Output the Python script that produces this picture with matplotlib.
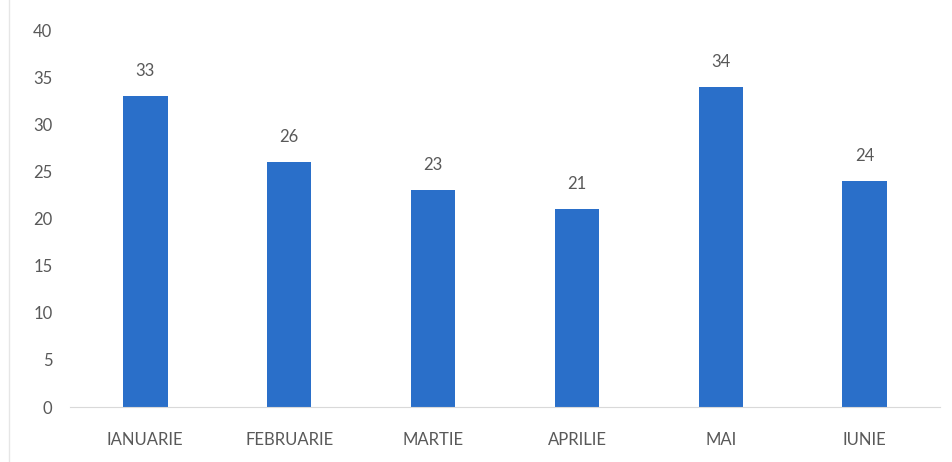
import matplotlib.pyplot as plt
from matplotlib.lines import Line2D

luni = ['IANUARIE', 'FEBRUARIE', 'MARTIE', 'APRILIE', 'MAI', 'IUNIE']
valori = [33, 26, 23, 21, 34, 24]
y_ticks = [0, 5, 10, 15, 20, 25, 30, 35, 40]

plt.rcParams['font.family'] = ['Lato', 'DejaVu Sans']

fig = plt.figure(figsize=(9.52, 4.62), dpi=100)
ax = fig.add_axes([0.074, 0.119, 0.913, 0.816])

bars = ax.bar(range(len(luni)), valori, width=0.31, color='#2a6fc9', zorder=2)
for b, v in zip(bars, valori):
    ax.text(b.get_x() + b.get_width() / 2, v + 1.8, str(v), ha='center', va='bottom',
            fontsize=12, color='#595959')

ax.set_xlim(-0.52, 5.52)
ax.set_ylim(0, 40)
ax.set_yticks(y_ticks)
ax.set_xticks(range(len(luni)))
ax.set_xticklabels(luni)
ax.tick_params(axis='both', length=0, labelsize=12, labelcolor='#595959')
ax.tick_params(axis='x', pad=18)
ax.tick_params(axis='y', pad=13)

for s in ['top', 'right', 'left']:
    ax.spines[s].set_visible(False)
ax.spines['bottom'].set_color('#d9d9d9')

# chenar din stanga
fig.add_artist(Line2D([0.009, 0.009], [0.0, 1.0], color='#e6e6e6', linewidth=1.0))

fig.savefig('out.png', dpi=100)
